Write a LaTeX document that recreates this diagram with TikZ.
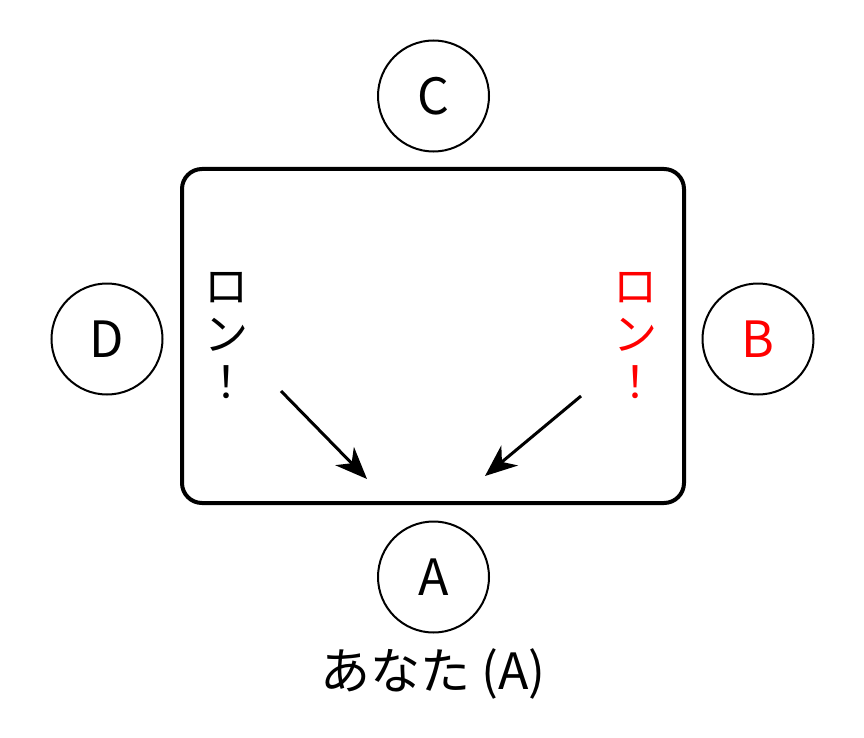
\documentclass[tikz,border=0pt]{standalone}
\usepackage{fontspec}
\setmainfont{Noto Sans CJK JP}
\usetikzlibrary{arrows.meta}
\tikzset{
  player/.style={circle,draw,line width=2pt,minimum size=111pt,inner sep=0pt,font=\fontsize{50}{50}\selectfont},
  ron/.style={align=center,font=\fontsize{44}{48}\selectfont,inner sep=0pt},
  callarrow/.style={line width=3pt,-{Stealth[length=32pt,width=26pt,inset=10pt]}},
  table/.style={line width=4pt,rounded corners=20pt}
}
\begin{document}
\begin{tikzpicture}[x=1pt,y=-1pt]
\useasboundingbox (0,0) rectangle (864,738);
\draw[table] (182,169) rectangle (684,503);
\node[player] (C) at (433.5,96) {C};
\node[player] (D) at (107,339) {D};
\node[player,text=red] (B) at (758,339) {B};
\node[player] (A) at (433.5,577) {A};
\node[font=\fontsize{50}{50}\selectfont,inner sep=0pt] (you) at (433,674) {あなた (A)};
\node[ron] (ronD) at (226,336) {ロ\\ン\\！};
\node[ron,text=red] (ronB) at (635,336) {ロ\\ン\\！};
\coordinate (d1) at (281,391);
\coordinate (d2) at (367,479);
\coordinate (b1) at (581,396);
\coordinate (b2) at (485,476);
\draw[callarrow] (d1) -- (d2);
\draw[callarrow] (b1) -- (b2);
\end{tikzpicture}
\end{document}
